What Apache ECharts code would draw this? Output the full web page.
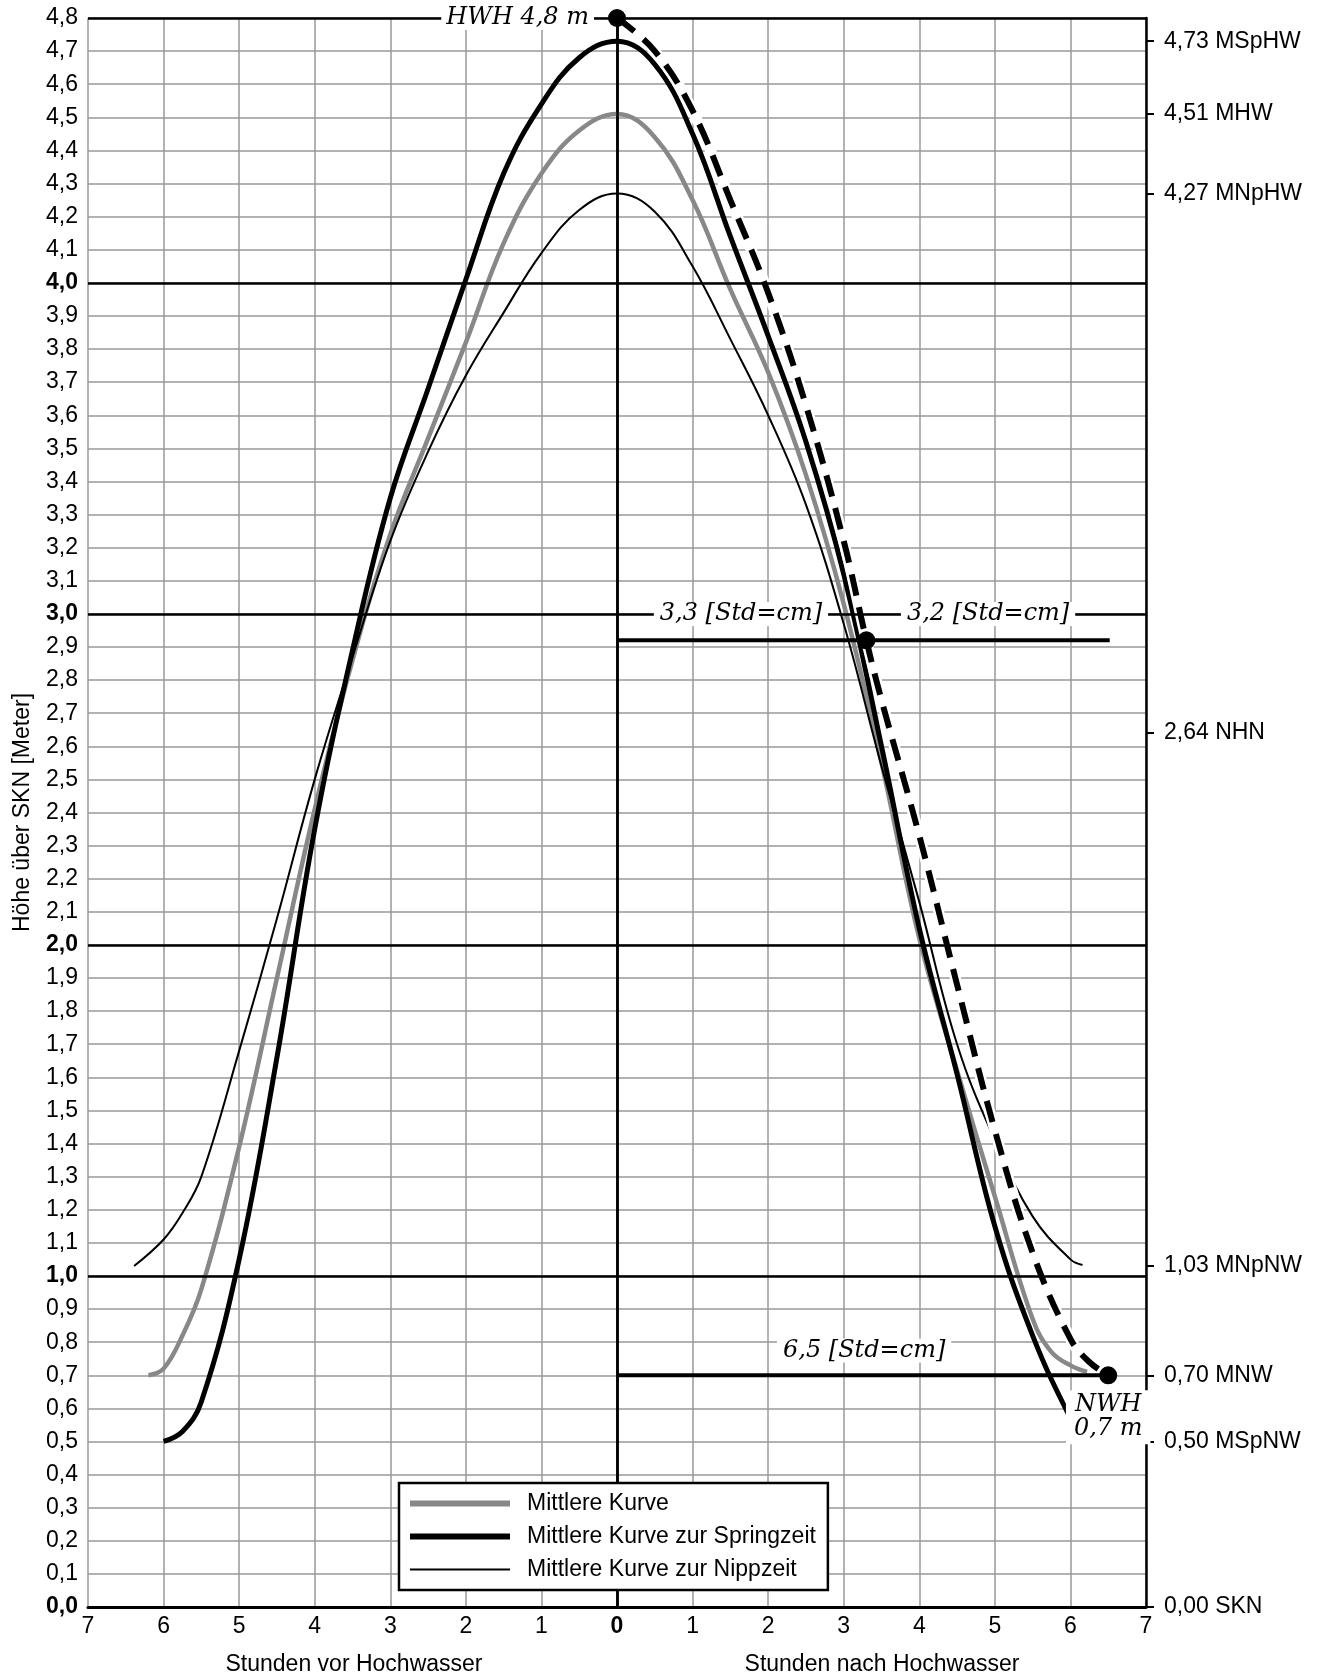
<!DOCTYPE html>
<html>
<head>
<meta charset="utf-8">
<script src="https://cdn.jsdelivr.net/npm/echarts@6.0.0/dist/echarts.min.js"></script>
<style>
html, body { margin: 0; background: #fff; }
#chart { width: 1328px; height: 1680px; }
</style>
</head>
<body>
<div id="chart"></div>
<script>
// hours relative to high water (neg = before), height above SKN in m
const meanCurve = [
  [-6.2, 0.70], [-6.0, 0.72], [-5.75, 0.82], [-5.5, 0.96], [-5.0, 1.39], [-4.5, 1.90],
  [-4.0, 2.41], [-3.5, 2.86], [-3.0, 3.24], [-2.5, 3.53], [-2.0, 3.82], [-1.5, 4.12],
  [-1.0, 4.33], [-0.5, 4.46], [0, 4.51], [0.5, 4.44], [1.0, 4.25], [1.5, 3.98],
  [2.0, 3.73], [2.5, 3.42], [3.0, 3.03], [3.5, 2.55], [4.0, 2.02], [4.5, 1.62],
  [5.0, 1.24], [5.5, 0.87], [5.75, 0.77], [6.0, 0.73], [6.22, 0.71]
];
const springCurve = [
  [-6.0, 0.50], [-5.75, 0.53], [-5.5, 0.62], [-5.0, 1.05], [-4.5, 1.66], [-4.0, 2.35],
  [-3.5, 2.89], [-3.0, 3.35], [-2.5, 3.68], [-2.0, 4.01], [-1.5, 4.33], [-1.0, 4.54],
  [-0.5, 4.68], [0, 4.73], [0.5, 4.66], [1.0, 4.45], [1.5, 4.14], [2.0, 3.84],
  [2.5, 3.52], [3.0, 3.12], [3.5, 2.60], [4.0, 2.05], [4.5, 1.61], [5.0, 1.15],
  [5.5, 0.82], [6.0, 0.57], [6.2, 0.50]
];
const neapCurve = [
  [-6.39, 1.03], [-6.0, 1.11], [-5.75, 1.19], [-5.5, 1.30], [-5.0, 1.68], [-4.5, 2.08],
  [-4.0, 2.50], [-3.5, 2.87], [-3.0, 3.22], [-2.5, 3.49], [-2.0, 3.72], [-1.5, 3.91],
  [-1.0, 4.09], [-0.5, 4.22], [0, 4.27], [0.5, 4.215], [1.0, 4.05], [1.5, 3.83],
  [2.0, 3.60], [2.5, 3.33], [3.0, 2.97], [3.5, 2.54], [4.0, 2.13], [4.5, 1.70],
  [5.0, 1.41], [5.5, 1.18], [6.0, 1.05], [6.16, 1.033]
];
// projected curve from HWH 4,8 m to NWH 0,7 m
const projCurve = [
  [0, 4.80], [0.5, 4.70], [1.0, 4.52], [1.5, 4.25], [2.0, 3.97], [2.5, 3.63],
  [3.0, 3.22], [3.3, 2.92], [3.5, 2.74], [4.0, 2.33], [4.5, 1.88], [5.0, 1.44],
  [5.5, 1.07], [6.0, 0.81], [6.25, 0.74], [6.5, 0.70]
];
const keyPoints = [[0, 4.8], [3.3, 2.92], [6.5, 0.70]];
const stdLineA = [[0, 2.92], [6.52, 2.92]];
const stdLineB = [[0, 0.70], [6.5, 0.70]];

const majorLevels = [1, 2, 3, 4, 4.8];
const rightTickValues = [4.73, 4.51, 4.27, 2.64, 1.03, 0.70, 0.50, 0.00];
const rightTickNames = ['MSpHW', 'MHW', 'MNpHW', 'NHN', 'MNpNW', 'MNW', 'MSpNW', 'SKN'];

const noteTexts = ['3,3 [Std=cm]', '3,2 [Std=cm]', '6,5 [Std=cm]'];
const notePos = [[1.64, 3.0], [4.91, 3.0], [3.27, 0.775]];

const legendNames = ['Mittlere Kurve', 'Mittlere Kurve zur Springzeit', 'Mittlere Kurve zur Nippzeit'];

const SANS = '"Liberation Sans", Arial, sans-serif';
const SERIF = '"DejaVu Serif", serif';
const fmt = (v, d) => v.toFixed(d).replace('.', ',');
const SMOOTH = 0.4;

const chart = echarts.init(document.getElementById('chart'), null, { renderer: 'canvas' });

chart.setOption({
  animation: false,
  backgroundColor: '#fff',
  textStyle: { fontFamily: SANS, color: '#000' },
  grid: { left: 88, right: 182, top: 18, bottom: 73 },
  legend: {
    data: legendNames.map((n, i) => ({ name: n, lineStyle: { width: [6, 6, 2][i] } })),
    orient: 'vertical', left: 399, top: 1483, z: 20,
    itemWidth: 100, itemHeight: 14, itemGap: 10,
    padding: [9, 12, 9, 8],
    borderColor: '#000', borderWidth: 2.5, backgroundColor: '#fff',
    textStyle: { fontSize: 23, color: '#000', fontFamily: SANS, padding: [0, 0, 0, 12] },
    itemStyle: { opacity: 0 },
    selectedMode: false
  },
  xAxis: {
    type: 'value', min: -7, max: 7, interval: 1,
    axisLine: { show: true, lineStyle: { color: '#000', width: 3 } },
    axisTick: { show: false },
    axisLabel: {
      margin: 8, fontSize: 23, color: '#000', fontFamily: SANS,
      formatter: v => v === 0 ? '{b|0}' : String(Math.abs(v)),
      rich: { b: { fontWeight: 'bold', fontSize: 23, fontFamily: SANS } }
    },
    splitLine: { show: true, lineStyle: { color: '#999', width: 1.5 } }
  },
  yAxis: [{
    type: 'value', min: 0, max: 4.8, interval: 0.1, position: 'left',
    name: 'Höhe über SKN [Meter]', nameLocation: 'middle', nameGap: 54, nameRotate: 90,
    nameTextStyle: { fontSize: 23, color: '#000', fontFamily: SANS },
    axisLine: { show: true, lineStyle: { color: '#000', width: 2.5 } },
    axisTick: { show: false },
    axisLabel: {
      margin: 10, fontSize: 23, color: '#000', fontFamily: SANS,
      formatter: v => {
        const r = Math.round(v * 10) / 10;
        const s = fmt(r, 1);
        return Number.isInteger(r) ? '{b|' + s + '}' : s;
      },
      rich: { b: { fontWeight: 'bold', fontSize: 23, fontFamily: SANS } }
    },
    splitLine: { show: true, lineStyle: { color: '#999', width: 1.5 } }
  }, {
    type: 'value', min: 0, max: 4.8, position: 'right',
    axisLine: { show: true, onZero: false, lineStyle: { color: '#000', width: 2.5 } },
    axisTick: { show: true, length: 8, customValues: rightTickValues, lineStyle: { color: '#000', width: 2 } },
    axisLabel: {
      customValues: rightTickValues, margin: 18, fontSize: 23, color: '#000', fontFamily: SANS,
      formatter: v => {
        const i = rightTickValues.findIndex(t => Math.abs(t - v) < 1e-6);
        return fmt(v, 2) + ' ' + (i >= 0 ? rightTickNames[i] : '');
      }
    },
    splitLine: { show: false }
  }],
  graphic: [
    { type: 'text', x: 354, y: 1665, style: { text: 'Stunden vor Hochwasser', fontSize: 23, fontFamily: SANS, fill: '#000', align: 'center', verticalAlign: 'middle' } },
    { type: 'text', x: 882, y: 1665, style: { text: 'Stunden nach Hochwasser', fontSize: 23, fontFamily: SANS, fill: '#000', align: 'center', verticalAlign: 'middle' } }
  ],
  series: [
    {
      name: 'grid-major', type: 'line', data: [], z: 1, silent: true,
      markLine: {
        silent: true, symbol: ['none', 'none'], label: { show: false },
        lineStyle: { color: '#000', width: 2.5, type: 'solid' },
        data: majorLevels.map(v => ({ yAxis: v })).concat([{ xAxis: 0 }])
      }
    },
    {
      name: legendNames[0], type: 'line', data: meanCurve, smooth: SMOOTH,
      symbol: 'none', z: 3, lineStyle: { color: '#888', width: 4.5 }, itemStyle: { color: '#888' }
    },
    {
      name: legendNames[1], type: 'line', data: springCurve, smooth: SMOOTH,
      symbol: 'none', z: 3, lineStyle: { color: '#000', width: 5 }, itemStyle: { color: '#000' }
    },
    {
      name: legendNames[2], type: 'line', data: neapCurve, smooth: SMOOTH,
      symbol: 'none', z: 3, lineStyle: { color: '#000', width: 2 }, itemStyle: { color: '#000' }
    },
    {
      name: 'proj-halo', type: 'line', data: projCurve, smooth: SMOOTH,
      symbol: 'none', z: 4, silent: true, lineStyle: { color: '#fff', width: 11 }
    },
    {
      name: 'proj', type: 'line', data: projCurve, smooth: SMOOTH,
      symbol: 'none', z: 4, silent: true, lineStyle: { color: '#000', width: 6, type: [22, 12], cap: 'butt' }
    },
    {
      name: 'std-a', type: 'line', data: stdLineA, symbol: 'none', z: 4, silent: true,
      lineStyle: { color: '#000', width: 4 }
    },
    {
      name: 'std-b', type: 'line', data: stdLineB, symbol: 'none', z: 4, silent: true,
      lineStyle: { color: '#000', width: 4 }
    },
    {
      name: 'notes', type: 'scatter', z: 6, silent: true, symbolSize: 1,
      itemStyle: { color: 'rgba(0,0,0,0)' },
      data: notePos.map((p, i) => ({ value: p, label: { formatter: noteTexts[i] } })),
      label: {
        show: true, position: 'inside', fontFamily: SERIF, fontStyle: 'italic', fontSize: 24,
        color: '#000', opacity: 1, textBorderWidth: 0, backgroundColor: '#fff', padding: [0, 6]
      }
    },
    {
      name: 'keys', type: 'scatter', z: 10, silent: true, symbolSize: 18,
      itemStyle: { color: '#000', opacity: 1 },
      data: keyPoints.map((p, i) => {
        if (i === 0) return { value: p, label: { show: true, position: 'left', distance: 14, formatter: 'HWH 4,8 m' } };
        if (i === 2) return { value: p, label: { show: true, position: 'bottom', distance: 6, formatter: 'NWH\n0,7 m', lineHeight: 24, padding: [2, 8, 4, 8] } };
        return { value: p };
      }),
      label: {
        fontFamily: SERIF, fontStyle: 'italic', fontSize: 24, color: '#000', opacity: 1,
        textBorderWidth: 0, backgroundColor: '#fff', padding: [0, 5]
      }
    }
  ]
});
</script>
</body>
</html>
